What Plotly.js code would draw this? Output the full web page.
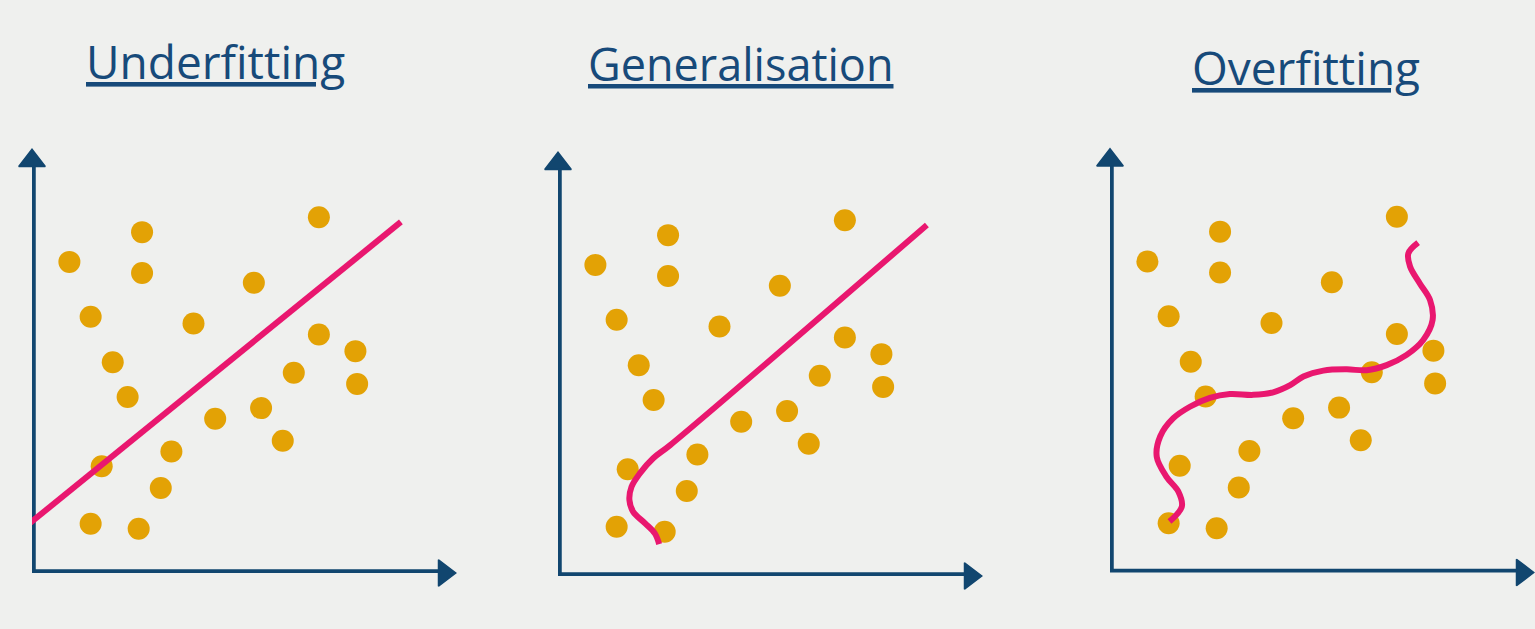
<!DOCTYPE html>
<html>
<head>
<meta charset="utf-8">
<script src="https://cdn.plot.ly/plotly-3.0.1.min.js"></script>
<style>
  html, body { margin: 0; padding: 0; background: #eff0ee; }
  #chart { width: 1535px; height: 629px; }
</style>
</head>
<body>
<div id="chart"></div>
<script>
// ---- Data (panel units: origin of the drawn axes = 0, arrow tip ≈ 100) ----
const panelTitles = ["Underfitting", "Generalisation", "Overfitting"];

// scattered observations (same cloud in all three panels)
const dotX = [8.8, 25.9, 25.9, 67.5, 13.8, 52.2, 38.0, 19.0, 67.5, 76.1, 22.5, 61.6, 76.5, 43.1, 53.9, 59.0, 32.8, 16.4, 30.3, 13.8, 25.1];
const dotY = [73.2, 80.2, 70.6, 83.7, 60.3, 68.3, 58.7, 49.6, 56.1, 52.2, 41.4, 47.1, 44.5, 36.3, 38.8, 31.1, 28.6, 25.1, 20.0, 11.6, 10.4];

// fitted models
const underX = [-0.9, 86.8];
const underY = [11.4, 82.6];

const genX = [86.8, 26.4, 22.4, 19.3, 17.3, 16.8, 17.7, 20.5, 22.8, 23.8];
const genY = [82.6, 30.8, 27.7, 24.2, 21.0, 17.9, 15.1, 12.4, 10.0, 7.5];

const overX = [14.0, 16.9, 16.1, 13.3, 11.0, 11.8, 14.9, 18.8, 23.5, 28.2, 33.7, 38.4, 42.4, 45.5, 50.2, 55.7, 60.4, 65.1, 69.8, 73.7, 75.9, 75.3, 72.9, 70.6, 70.2, 72.5];
const overY = [12.0, 15.5, 19.0, 22.5, 27.2, 32.0, 36.3, 39.0, 41.1, 42.0, 41.8, 42.4, 44.1, 46.1, 47.5, 47.8, 47.6, 48.8, 51.2, 54.7, 59.4, 64.1, 68.0, 72.0, 75.1, 77.6];

const fitX = [underX, genX, overX];
const fitY = [underY, genY, overY];

// ---- Styling / layout ----
const W = 1535, H = 629;
const UNIT = 4.25;              // px per panel unit
const SPAN = 100;               // axis range length
const AXIS_END = 97;            // centre of arrowheads
const origins = [[32, 573], [558, 576], [1110, 572.5]];
const titlePos = [[215, 61], [740.5, 64], [1306, 67]];
const titleSize = [46, 45, 46];

const NAVY = "#11466f";
const GOLD = "#e3a205";
const PINK = "#e9176f";
const TITLE = "#174a7a";
const BG = "#eff0ee";

const traces = [];
const layout = {
  width: W, height: H,
  margin: {l: 0, r: 0, t: 0, b: 0},
  paper_bgcolor: BG, plot_bgcolor: "rgba(0,0,0,0)",
  showlegend: false, hovermode: false,
  annotations: []
};

origins.forEach(([ox, oy], i) => {
  const n = i === 0 ? "" : String(i + 1);
  const xa = "xaxis" + n, ya = "yaxis" + n;
  const x0 = ox / W, x1 = Math.min(1, (ox + SPAN * UNIT) / W);
  const y0 = (H - oy) / H, y1 = Math.min(1, (H - oy + SPAN * UNIT) / H);
  const xr = [0, (x1 - x0) * W / UNIT];
  const yr = [0, (y1 - y0) * H / UNIT];
  const common = {visible: false, showgrid: false, zeroline: false, fixedrange: true};
  layout[xa] = Object.assign({domain: [x0, x1], range: xr, anchor: "y" + n}, common);
  layout[ya] = Object.assign({domain: [y0, y1], range: yr, anchor: "x" + n}, common);

  // axis lines
  traces.push({
    type: "scatter", mode: "lines", xaxis: "x" + n, yaxis: "y" + n,
    x: [0, 0, AXIS_END], y: [AXIS_END, 0, 0],
    line: {color: NAVY, width: 7.5},
    cliponaxis: false
  });
  // arrowheads
  traces.push({
    type: "scatter", mode: "markers", xaxis: "x" + n, yaxis: "y" + n,
    x: [0, AXIS_END], y: [AXIS_END, 0],
    marker: {color: NAVY, symbol: ["triangle-up", "triangle-right"], size: 23, line: {width: 1.5, color: NAVY}},
    cliponaxis: false
  });
  // observations
  traces.push({
    type: "scatter", mode: "markers", xaxis: "x" + n, yaxis: "y" + n,
    x: dotX, y: dotY,
    marker: {color: GOLD, size: 22, line: {width: 0}},
    cliponaxis: false
  });
  // model fit
  traces.push({
    type: "scatter", mode: "lines", xaxis: "x" + n, yaxis: "y" + n,
    x: fitX[i], y: fitY[i],
    line: {color: PINK, width: 6, shape: i === 0 ? "linear" : "spline", smoothing: 1},
    cliponaxis: false
  });

  layout.annotations.push({
    xref: "paper", yref: "paper",
    x: titlePos[i][0] / W, y: 1 - titlePos[i][1] / H,
    xanchor: "center", yanchor: "middle",
    text: "<u>" + panelTitles[i] + "</u>",
    showarrow: false,
    font: {family: "Open Sans, Noto Sans, sans-serif", size: titleSize[i], color: TITLE}
  });
});

Plotly.newPlot("chart", traces, layout, {staticPlot: true, displayModeBar: false});
</script>
</body>
</html>
